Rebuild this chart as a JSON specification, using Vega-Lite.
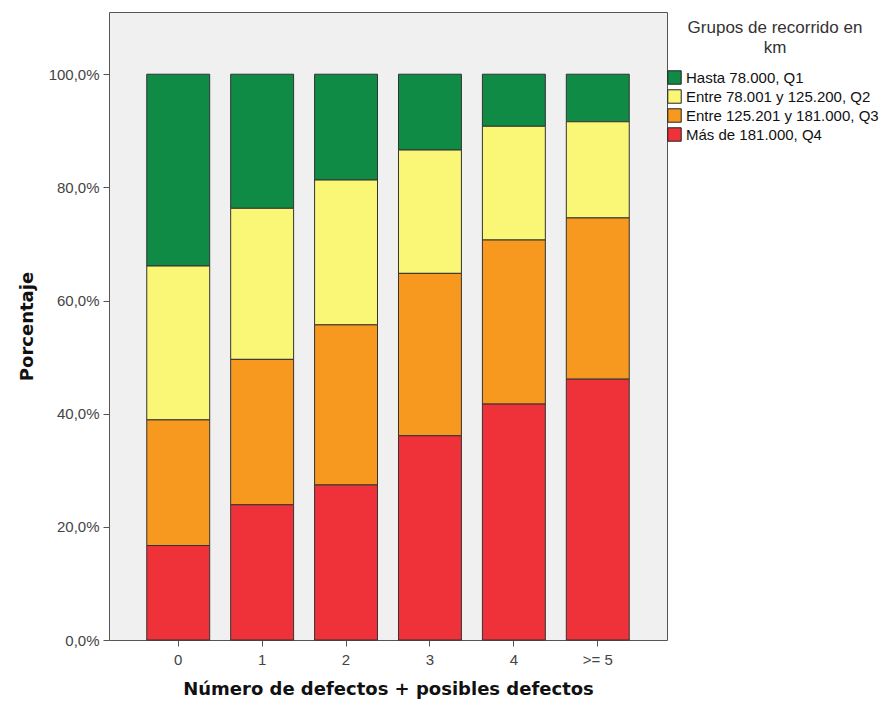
{
  "$schema": "https://vega.github.io/schema/vega-lite/v6.json",
  "width": 558,
  "height": 628,
  "autosize": {"type": "none"},
  "padding": {"left": 109, "top": 12, "right": 221, "bottom": 67},
  "background": "white",
  "data": {
    "values": [
      {"defectos": "0", "grupo": "Hasta 78.000, Q1", "q": 1, "pct": 33.9},
      {"defectos": "0", "grupo": "Entre 78.001  y 125.200, Q2", "q": 2, "pct": 27.2},
      {"defectos": "0", "grupo": "Entre 125.201  y 181.000, Q3", "q": 3, "pct": 22.2},
      {"defectos": "0", "grupo": "Más de 181.000, Q4", "q": 4, "pct": 16.7},
      {"defectos": "1", "grupo": "Hasta 78.000, Q1", "q": 1, "pct": 23.7},
      {"defectos": "1", "grupo": "Entre 78.001  y 125.200, Q2", "q": 2, "pct": 26.7},
      {"defectos": "1", "grupo": "Entre 125.201  y 181.000, Q3", "q": 3, "pct": 25.7},
      {"defectos": "1", "grupo": "Más de 181.000, Q4", "q": 4, "pct": 23.9},
      {"defectos": "2", "grupo": "Hasta 78.000, Q1", "q": 1, "pct": 18.7},
      {"defectos": "2", "grupo": "Entre 78.001  y 125.200, Q2", "q": 2, "pct": 25.6},
      {"defectos": "2", "grupo": "Entre 125.201  y 181.000, Q3", "q": 3, "pct": 28.3},
      {"defectos": "2", "grupo": "Más de 181.000, Q4", "q": 4, "pct": 27.4},
      {"defectos": "3", "grupo": "Hasta 78.000, Q1", "q": 1, "pct": 13.4},
      {"defectos": "3", "grupo": "Entre 78.001  y 125.200, Q2", "q": 2, "pct": 21.8},
      {"defectos": "3", "grupo": "Entre 125.201  y 181.000, Q3", "q": 3, "pct": 28.7},
      {"defectos": "3", "grupo": "Más de 181.000, Q4", "q": 4, "pct": 36.1},
      {"defectos": "4", "grupo": "Hasta 78.000, Q1", "q": 1, "pct": 9.2},
      {"defectos": "4", "grupo": "Entre 78.001  y 125.200, Q2", "q": 2, "pct": 20.1},
      {"defectos": "4", "grupo": "Entre 125.201  y 181.000, Q3", "q": 3, "pct": 29.0},
      {"defectos": "4", "grupo": "Más de 181.000, Q4", "q": 4, "pct": 41.7},
      {"defectos": ">= 5", "grupo": "Hasta 78.000, Q1", "q": 1, "pct": 8.4},
      {"defectos": ">= 5", "grupo": "Entre 78.001  y 125.200, Q2", "q": 2, "pct": 17.0},
      {"defectos": ">= 5", "grupo": "Entre 125.201  y 181.000, Q3", "q": 3, "pct": 28.5},
      {"defectos": ">= 5", "grupo": "Más de 181.000, Q4", "q": 4, "pct": 46.1}
    ]
  },
  "mark": {"type": "bar", "stroke": "#333333", "strokeWidth": 1},
  "encoding": {
    "x": {
      "field": "defectos",
      "type": "nominal",
      "sort": ["0", "1", "2", "3", "4", ">= 5"],
      "scale": {"paddingInner": 0.25, "paddingOuter": 0.45},
      "axis": {
        "title": "Número de defectos + posibles defectos",
        "labelAngle": 0,
        "domain": false,
        "tickColor": "#555555",
        "tickSize": 6,
        "labelPadding": 6,
        "labelFont": "Liberation Sans",
        "labelFontSize": 15,
        "labelColor": "#444444",
        "titleFont": "DejaVu Sans",
        "titleFontSize": 18,
        "titleFontWeight": "bold",
        "titleColor": "#111111",
        "titlePadding": 13
      }
    },
    "y": {
      "field": "pct",
      "type": "quantitative",
      "stack": "zero",
      "scale": {"domain": [0, 111], "nice": false},
      "axis": {
        "title": "Porcentaje",
        "values": [0, 20, 40, 60, 80, 100],
        "labelExpr": "replace(format(datum.value, '.1f'), '.', ',') + '%'",
        "grid": false,
        "domain": false,
        "tickColor": "#555555",
        "tickSize": 6,
        "labelPadding": 4,
        "labelFont": "Liberation Sans",
        "labelFontSize": 15,
        "labelColor": "#444444",
        "titleFont": "DejaVu Sans",
        "titleFontSize": 18,
        "titleFontWeight": "bold",
        "titleColor": "#111111",
        "titlePadding": 12
      }
    },
    "color": {
      "field": "grupo",
      "type": "nominal",
      "scale": {
        "domain": ["Hasta 78.000, Q1", "Entre 78.001  y 125.200, Q2", "Entre 125.201  y 181.000, Q3", "Más de 181.000, Q4"],
        "range": ["#0f8b45", "#fbf776", "#f7981f", "#ef3139"]
      },
      "legend": {
        "title": ["Grupos de recorrido en", "km"],
        "orient": "right",
        "offset": -8,
        "padding": 8,
        "titleAlign": "center",
        "titleAnchor": "middle",
        "titleFont": "Liberation Sans",
        "titleFontSize": 17,
        "titleFontWeight": "normal",
        "titleColor": "#333333",
        "titleLineHeight": 20,
        "titleLimit": 300,
        "titlePadding": 13,
        "labelFont": "Liberation Sans",
        "labelFontSize": 15,
        "labelColor": "#111111",
        "labelLimit": 300,
        "labelOffset": 4,
        "symbolType": "square",
        "symbolSize": 180,
        "symbolStrokeColor": "#222222",
        "symbolStrokeWidth": 1,
        "rowPadding": 0
      }
    },
    "order": {"field": "q", "sort": "descending"}
  },
  "config": {
    "view": {"fill": "#f0f0f0", "stroke": "#555555", "strokeWidth": 1}
  }
}
